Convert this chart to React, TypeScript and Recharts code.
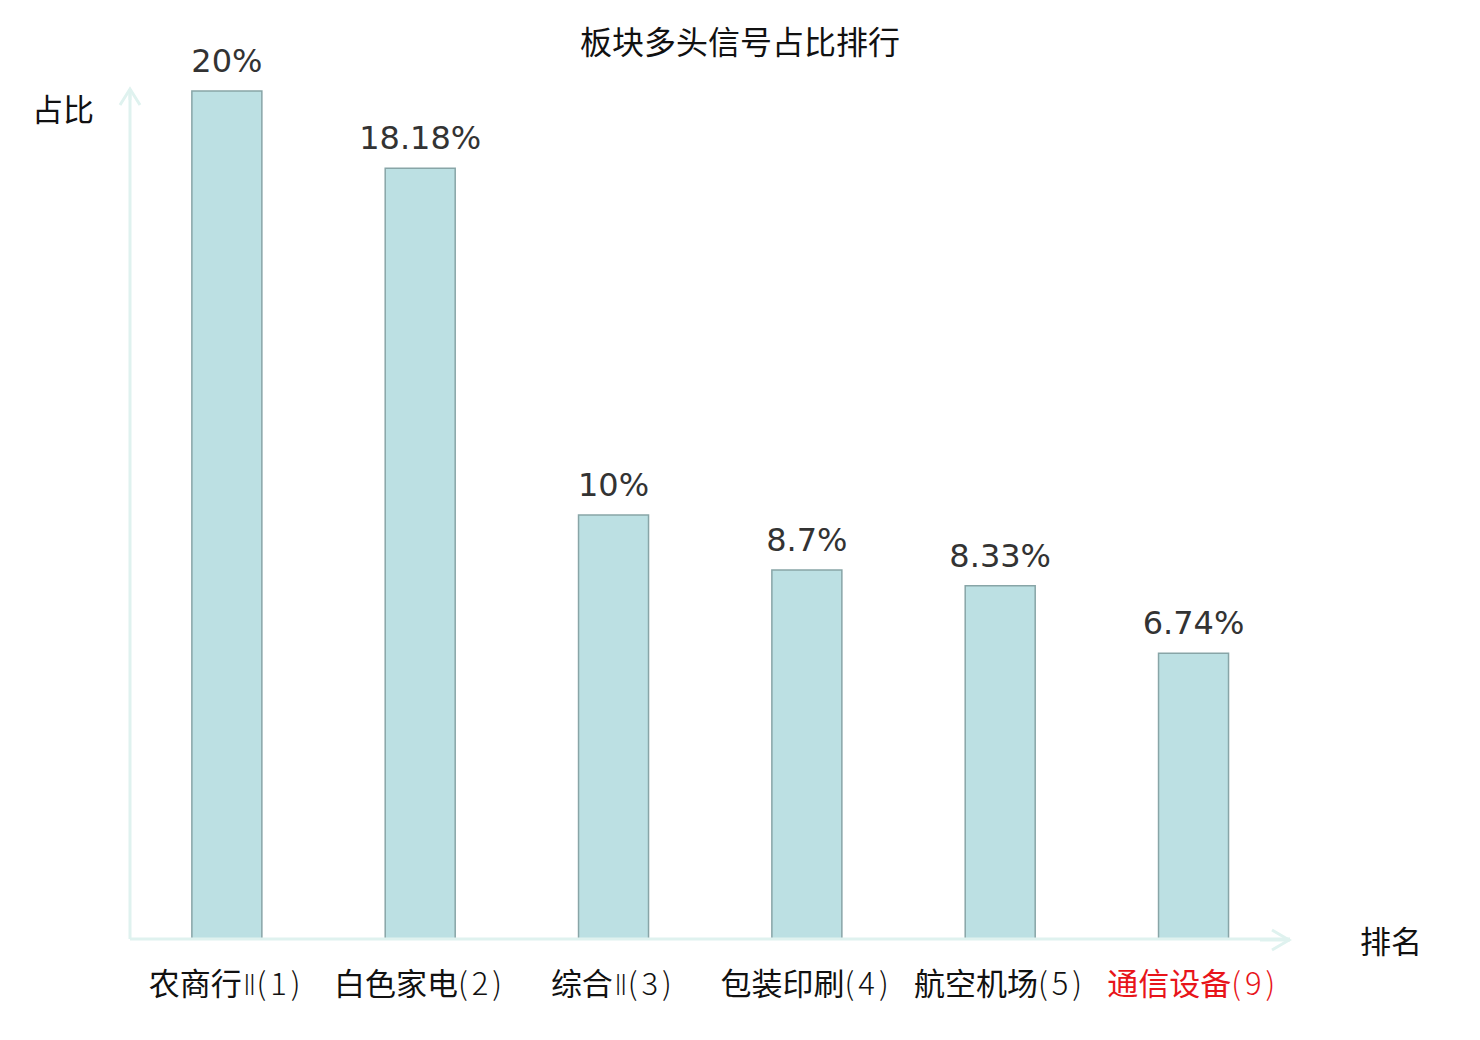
import React from 'react';
import { BarChart, Bar, XAxis, YAxis, LabelList } from 'recharts';

const categories = ['农商行Ⅱ(1)', '白色家电(2)', '综合Ⅱ(3)', '包装印刷(4)', '航空机场(5)', '通信设备(9)'];
const values = [20, 18.18, 10, 8.7, 8.33, 6.74];
const highlight = [false, false, false, false, false, true];
const valueLabels = ['20%', '18.18%', '10%', '8.7%', '8.33%', '6.74%'];

const data = categories.map((name, i) => ({ name, value: values[i], label: valueLabels[i], hi: highlight[i] }));

const W = 1480;
const H = 1040;
const AXIS = '#dff2ef';
const CJK = '"Noto Sans CJK SC", "DejaVu Sans", sans-serif';

const Tick = (props: any) => {
  const { x, payload, index } = props;
  const red = highlight[index];
  const s: string = payload.value;
  const m = s.match(/^([^Ⅱ(]+)(Ⅱ?)(\(.*\))$/);
  const head = m ? m[1] : s;
  const roman = m ? m[2] : '';
  const tail = m ? m[3] : '';
  return (
    <text x={x} y={995} textAnchor="middle" fontSize={31} fontFamily={CJK} fill={red ? '#e8141a' : '#111'}>
      <tspan>{head}</tspan>
      {roman ? <tspan fontFamily='"DejaVu Sans", sans-serif' fontWeight={200} fontSize={28} dx={1}>{roman}</tspan> : null}
      <tspan fontWeight={300} letterSpacing={4}>{tail}</tspan>
    </text>
  );
};

export default function App() {
  return (
    <div style={{ position: 'absolute', left: 0, top: 0, width: W, height: H, background: '#fff' }}>
      <BarChart width={W} height={H} data={data} margin={{ top: 91, right: 190, bottom: 0, left: 0 }} barCategoryGap="32%">
        <XAxis
          dataKey="name"
          axisLine={{ stroke: AXIS, strokeWidth: 3 }}
          tickLine={false}
          tick={<Tick />}
          interval={0}
          height={101}
        />
        <YAxis
          domain={[0, 20]}
          width={130}
          tick={false}
          tickLine={false}
          axisLine={{ stroke: AXIS, strokeWidth: 3 }}
        />
        <Bar dataKey="value" fill="#bce0e3" stroke="#88a5a7" strokeWidth={1.5} isAnimationActive={false}>
          <LabelList dataKey="label" position="top" offset={19} fontSize={32} fontFamily='"DejaVu Sans", sans-serif' fill="#333" />
        </Bar>
      </BarChart>
      <svg width={W} height={H} style={{ position: 'absolute', left: 0, top: 0, pointerEvents: 'none' }}>
        <polyline points="120,105 130,89 140,105" fill="none" stroke={AXIS} strokeWidth={3} />
        <line x1={1260} y1={940} x2={1290} y2={940} stroke={AXIS} strokeWidth={3} />
        <polyline points="1272,930 1289,940 1272,950" fill="none" stroke={AXIS} strokeWidth={3} />
        <line x1={130} y1={89} x2={130} y2={100} stroke={AXIS} strokeWidth={3} />
        <text x={740} y={54} textAnchor="middle" fontSize={32} fontFamily={CJK} fill="#111">板块多头信号占比排行</text>
        <text x={63} y={121} textAnchor="middle" fontSize={31} fontFamily={CJK} fill="#111">占比</text>
        <text x={1391} y={953} textAnchor="middle" fontSize={31} fontFamily={CJK} fill="#111">排名</text>
      </svg>
    </div>
  );
}
